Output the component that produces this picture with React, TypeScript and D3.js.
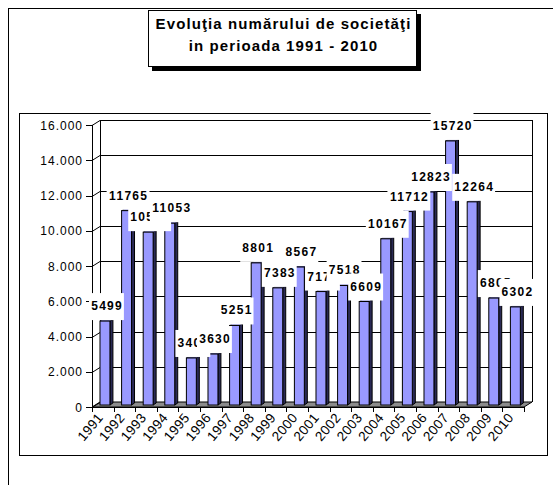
import React from "react";
import * as d3 from "d3";

const years = ["1991","1992","1993","1994","1995","1996","1997","1998","1999","2000","2001","2002","2003","2004","2005","2006","2007","2008","2009","2010"];
const values = [5499,11765,10545,11053,3406,3630,5251,8801,7383,8567,7174,7518,6609,10167,11712,12823,15720,12264,6805,6302];
const yTicks = [0,2000,4000,6000,8000,10000,12000,14000,16000];
const titleLines = ["Evoluţia numărului de societăţi","in perioada 1991 - 2010"];

const W = 553, H = 485;
const FONT = "Arial, 'Liberation Sans', Helvetica, sans-serif";

export default function App() {
  const x0 = 92, x1 = 524;
  const dx = 8, dy = -5; // depth offset of back wall
  const yFront = d3.scaleLinear().domain([0, 16000]).range([407, 125]);
  const yWall = (v: number) => yFront(v) + dy;
  const yBar = d3.scaleLinear().domain([0, 16000]).range([418, 136]);
  const xBand = d3.scaleBand<string>().domain(years).range([x0, x1]).padding(0);
  const bw = xBand.bandwidth();
  const barBottom = yFront(0) - 2;
  const sideW = 3, sideRise = 2;
  const fmt = (v: number) => d3.format(",")(v).replace(/,/g, ".");

  const bars = years.map((yr, i) => {
    const v = values[i];
    const bx = (xBand(yr) as number) + bw * 0.37;
    const fw = bw * 0.46;
    const top = yBar(v);
    return { yr, v, bx, fw, top, cx: bx + (fw + sideW) / 2 };
  });

  return (
    <svg width={W} height={H} style={{ position: "absolute", left: 0, top: 0, background: "#fff" }} fontFamily={FONT}>
      {/* outer frame */}
      <rect x={8.5} y={8.5} width={700} height={700} fill="none" stroke="#000" strokeWidth={1} />
      {/* title box */}
      <rect x={152} y={14} width={269} height={57} fill="#000" />
      <rect x={148.5} y={10.5} width={268} height={56} fill="#fff" stroke="#000" strokeWidth={1} />
      {titleLines.map((t, i) => (
        <text key={i} x={283.5} y={29 + i * 22} textAnchor="middle" fontSize={15} fontWeight="bold" letterSpacing={1.1} fill="#000">{t}</text>
      ))}
      {/* chart area */}
      <rect x={19.5} y={113.5} width={528} height={342} fill="#fff" stroke="#000" strokeWidth={1} />
      {/* floor */}
      <polygon points={`${x0},${yFront(0)} ${x0 + dx},${yWall(0)} ${x1 + dx},${yWall(0)} ${x1},${yFront(0)}`} fill="#8c8c8c" stroke="#000" strokeWidth={1} />
      {/* wall gridlines */}
      {yTicks.map((t) => (
        <g key={t}>
          <line x1={x0 + dx} x2={x1 + dx} y1={Math.round(yWall(t)) + 0.5} y2={Math.round(yWall(t)) + 0.5} stroke="#000" strokeWidth={t === 0 ? 0 : 1} />
          <line x1={x0} y1={Math.round(yFront(t)) + 0.5} x2={x0 + dx} y2={Math.round(yWall(t)) + 0.5} stroke="#000" strokeWidth={1} />
          <line x1={x0 - 6} x2={x0} y1={Math.round(yFront(t)) + 0.5} y2={Math.round(yFront(t)) + 0.5} stroke="#000" strokeWidth={1} />
          <text x={83} y={yFront(t) + 4.5} textAnchor="end" fontSize={12} letterSpacing={1} fill="#000">{fmt(t)}</text>
        </g>
      ))}
      {/* wall edges */}
      <line x1={x0 + dx + 0.5} x2={x0 + dx + 0.5} y1={yWall(16000)} y2={yWall(0)} stroke="#000" strokeWidth={1} />
      <line x1={x1 + dx + 0.5} x2={x1 + dx + 0.5} y1={yWall(16000)} y2={yWall(0)} stroke="#000" strokeWidth={1} />
      {/* value axis */}
      <line x1={x0 + 0.5} x2={x0 + 0.5} y1={yFront(16000)} y2={yFront(0)} stroke="#000" strokeWidth={1} />
      {/* category axis */}
      <line x1={x0} x2={x1} y1={yFront(0) + 0.5} y2={yFront(0) + 0.5} stroke="#000" strokeWidth={1} />
      {years.concat(["end"]).map((yr, i) => {
        const tx = Math.round(x0 + i * bw) + 0.5;
        return <line key={yr} x1={tx} x2={tx} y1={yFront(0)} y2={yFront(0) + 5} stroke="#000" strokeWidth={1} />;
      })}
      {years.map((yr) => {
        const cx = (xBand(yr) as number) + bw / 2 + 1;
        return (
          <text key={yr} transform={`translate(${cx},${418}) rotate(-50)`} textAnchor="end" fontSize={13.5} letterSpacing={0.3} fill="#000">{yr}</text>
        );
      })}
      {/* bars */}
      {bars.map((b) => (
        <g key={b.yr}>
          <polygon points={`${b.bx + b.fw},${b.top} ${b.bx + b.fw + sideW},${b.top - sideRise} ${b.bx + b.fw + sideW},${barBottom - sideRise} ${b.bx + b.fw},${barBottom}`} fill="#2a2a55" stroke="#000" strokeWidth={1} />
          <polygon points={`${b.bx},${b.top} ${b.bx + sideW},${b.top - sideRise} ${b.bx + b.fw + sideW},${b.top - sideRise} ${b.bx + b.fw},${b.top}`} fill="#7a7acc" stroke="#000" strokeWidth={0.5} />
          <rect x={b.bx} y={b.top} width={b.fw} height={barBottom - b.top} fill="#9999ff" stroke="#000" strokeWidth={1} />
        </g>
      ))}
      {/* data labels */}
      {bars.map((b) => {
        const label = String(b.v);
        const tw = label.length * (6.67 + 1.3);
        return (
          <g key={b.yr}>
            <rect x={b.cx - tw / 2 - 1.5} y={b.top - 28} width={tw + 3} height={27} fill="#fff" />
            <text x={b.cx + 0.65} y={b.top - 11} textAnchor="middle" fontSize={12} fontWeight="bold" letterSpacing={1.3} fill="#000">{label}</text>
          </g>
        );
      })}
    </svg>
  );
}
